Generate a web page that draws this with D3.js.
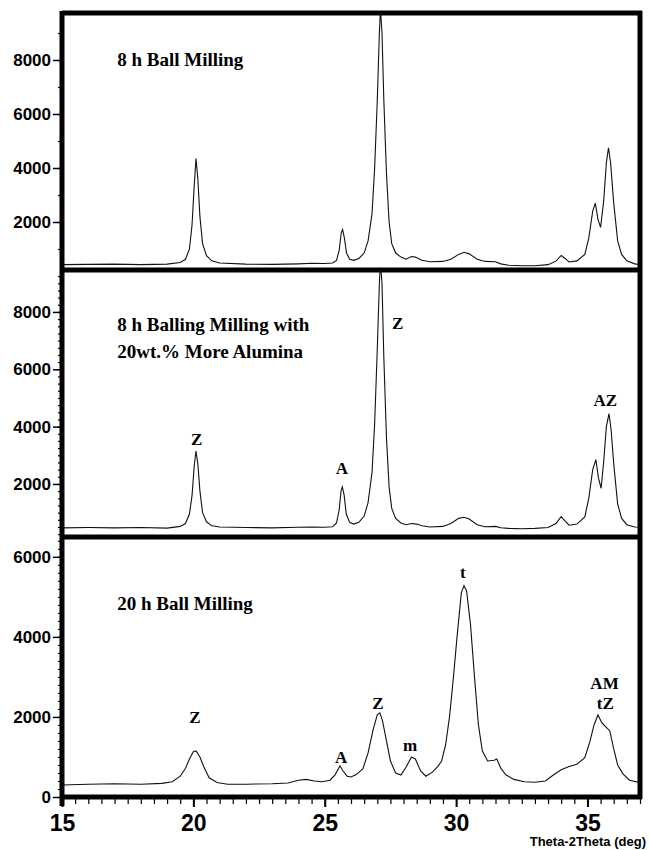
<!DOCTYPE html>
<html>
<head>
<meta charset="utf-8">
<script src="https://cdn.jsdelivr.net/npm/d3@7"></script>
<style>
  body { margin: 0; background: #fff; }
  .tick text { font-family: "Liberation Sans", Arial, sans-serif; font-weight: bold; }
</style>
</head>
<body>
<div id="xrd-graph"></div>
<script>
// ---- data ----
// panel 1: 8 h ball milling
var theta8h = [15.0,16.0,17.0,18.0,19.0,19.5,19.7,19.85,19.95,20.03,20.1,20.17,20.25,20.35,20.5,20.7,21.0,22.0,23.0,24.0,24.5,25.0,25.3,25.45,25.55,25.63,25.68,25.75,25.83,25.95,26.1,26.3,26.5,26.65,26.8,26.9,27.0,27.08,27.12,27.18,27.25,27.35,27.45,27.55,27.7,27.9,28.1,28.3,28.45,28.7,29.0,29.5,29.8,30.1,30.3,30.5,30.8,31.1,31.5,31.7,32.0,32.5,33.0,33.5,33.8,34.0,34.15,34.3,34.6,34.9,35.05,35.2,35.3,35.4,35.5,35.62,35.72,35.8,35.88,36.0,36.15,36.3,36.5,36.8,37.0];
var counts8h = [420,430,440,420,440,500,620,1000,1900,3300,4350,3600,2200,1200,750,560,480,440,430,450,470,460,480,580,950,1600,1720,1400,850,620,580,650,850,1300,2300,4000,6500,9000,9900,9000,6500,3800,2000,1200,850,700,620,720,700,580,530,540,620,800,880,820,620,540,530,450,400,380,380,420,550,760,650,520,560,800,1400,2400,2700,2100,1800,2800,4200,4750,4200,2700,1300,800,560,450,420];

// panel 2: 8 h milling with 20 wt.% more alumina
var thetaAlumina = [15.0,16.0,17.0,18.0,19.0,19.5,19.7,19.85,19.95,20.03,20.1,20.17,20.25,20.35,20.5,20.7,21.0,22.0,23.0,24.0,24.5,25.0,25.3,25.45,25.55,25.62,25.67,25.74,25.82,25.95,26.1,26.3,26.5,26.65,26.8,26.9,27.0,27.08,27.12,27.18,27.25,27.35,27.45,27.55,27.7,27.9,28.1,28.3,28.5,28.7,29.0,29.5,29.8,30.1,30.3,30.5,30.8,31.1,31.5,31.7,32.0,32.5,33.0,33.5,33.8,34.0,34.15,34.3,34.6,34.9,35.05,35.2,35.32,35.42,35.52,35.62,35.72,35.82,35.9,36.0,36.15,36.3,36.5,36.8,37.0];
var countsAlumina = [470,480,470,480,460,520,620,950,1600,2600,3150,2700,1750,1000,680,540,500,480,470,490,500,490,510,640,1100,1750,1900,1600,950,660,600,660,880,1350,2400,4100,6700,9000,9700,9000,6400,3600,1900,1150,800,640,580,620,600,540,500,520,620,800,840,780,580,510,520,470,450,440,450,480,620,860,700,560,600,850,1500,2500,2850,2200,1850,2800,4000,4450,3900,2700,1300,800,580,500,490];

// panel 3: 20 h ball milling
var theta20h = [15.0,16.0,17.0,18.0,18.8,19.2,19.5,19.7,19.85,20.0,20.1,20.25,20.4,20.6,20.9,21.3,22.0,23.0,23.6,24.0,24.3,24.6,24.9,25.2,25.4,25.58,25.7,25.85,26.0,26.2,26.45,26.65,26.85,27.0,27.1,27.2,27.35,27.5,27.7,27.9,28.1,28.3,28.45,28.65,28.85,29.1,29.3,29.45,29.6,29.75,29.9,30.05,30.2,30.3,30.4,30.55,30.7,30.85,31.0,31.2,31.45,31.55,31.7,31.9,32.2,32.6,33.0,33.4,33.7,34.0,34.3,34.6,34.9,35.1,35.25,35.4,35.55,35.7,35.85,36.0,36.15,36.35,36.6,37.0];
var counts20h = [300,320,330,320,340,380,520,720,950,1130,1150,1000,750,480,360,320,320,330,350,420,440,400,380,420,560,780,650,520,500,560,700,1100,1700,2050,2100,1900,1400,900,600,550,750,1000,950,650,520,620,760,900,1300,2000,3000,4100,5100,5280,5150,4300,3000,1800,1150,900,920,950,720,550,440,380,370,400,550,680,760,820,980,1400,1800,2050,1850,1750,1650,1200,800,580,420,360];

// axis ticks
var xMajorTicks = [15, 20, 25, 30, 35];
var yTicks8h = [2000, 4000, 6000, 8000];
var yTicksAlumina = [2000, 4000, 6000, 8000];
var yTicks20h = [0, 2000, 4000, 6000];

// panel titles and peak labels (theta, counts)
var titles8h = ["8 h Ball Milling"];
var titlesAlumina = ["8 h Balling Milling with", "20wt.% More Alumina"];
var titles20h = ["20 h Ball Milling"];
var peaksAlumina = [["Z", 20.13, 3360], ["A", 25.65, 2350], ["Z", 27.78, 7400], ["AZ", 35.68, 4720]];
var peaks20h = [["Z", 20.06, 1850], ["A", 25.62, 850], ["Z", 27.02, 2200], ["m", 28.25, 1150],
                ["t", 30.26, 5470], ["AM", 35.65, 2700], ["tZ", 35.68, 2200]];

// set the dimensions of the graph
var width = 650, height = 850;
var left = 62, right = 640;

var svg = d3.select("#xrd-graph")
  .append("svg")
    .attr("width", width)
    .attr("height", height);

var x = d3.scaleLinear().domain([15, 37]).range([left, right]);

// each panel has its own y scale (stacked plots)
var panels = [
  {id: "p1", theta: theta8h, counts: counts8h, dom: [222, 9741], rng: [270, 13],
   ticks: yTicks8h, minorStep: 1000, titles: titles8h, titleY: [7780], peaks: []},
  {id: "p2", theta: thetaAlumina, counts: countsAlumina, dom: [150, 9463], rng: [537, 270],
   ticks: yTicksAlumina, minorStep: 250, titles: titlesAlumina, titleY: [7335, 6393], peaks: peaksAlumina},
  {id: "p3", theta: theta20h, counts: counts20h, dom: [0, 6470], rng: [797, 538],
   ticks: yTicks20h, minorStep: 200, titles: titles20h, titleY: [4670], peaks: peaks20h}
];

panels.forEach(function(p) {
  var y = d3.scaleLinear().domain(p.dom).range(p.rng);

  svg.append("clipPath").attr("id", "clip-" + p.id)
    .append("rect")
      .attr("x", left).attr("y", p.rng[1])
      .attr("width", right - left).attr("height", p.rng[0] - p.rng[1]);

  // minor ticks
  var minor = d3.range(0, p.dom[1], p.minorStep).filter(function(v) { return v >= p.dom[0]; });
  svg.append("g")
    .attr("transform", "translate(" + left + ",0)")
    .call(d3.axisLeft(y).tickValues(minor).tickSize(4).tickFormat(""))
    .call(function(g) { g.select(".domain").remove(); })
    .selectAll("line").attr("stroke-width", 1.2);

  // major ticks + labels
  svg.append("g")
    .attr("transform", "translate(" + left + ",0)")
    .call(d3.axisLeft(y).tickValues(p.ticks).tickSize(9).tickPadding(2).tickFormat(d3.format("d")))
    .call(function(g) { g.select(".domain").remove(); })
    .call(function(g) {
      g.selectAll("line").attr("stroke-width", 1.5);
      g.selectAll("text").style("font-size", "17px");
    });

  // the pattern
  var line = d3.line()
    .x(function(d) { return x(d[0]); })
    .y(function(d) { return y(d[1]); });

  svg.append("path")
    .datum(d3.zip(p.theta, p.counts))
    .attr("clip-path", "url(#clip-" + p.id + ")")
    .attr("fill", "none")
    .attr("stroke", "#111")
    .attr("stroke-width", 1.1)
    .attr("d", line);

  // panel title
  p.titles.forEach(function(t, i) {
    svg.append("text")
      .attr("x", x(17.1))
      .attr("y", y(p.titleY[i]))
      .style("font-family", "'Liberation Serif', 'Times New Roman', serif")
      .style("font-weight", "bold")
      .style("font-size", "19px")
      .text(t);
  });

  // peak labels
  svg.selectAll(null)
    .data(p.peaks)
    .enter()
    .append("text")
      .attr("x", function(d) { return x(d[1]); })
      .attr("y", function(d) { return y(d[2]); })
      .attr("text-anchor", "middle")
      .style("font-family", "'Liberation Serif', 'Times New Roman', serif")
      .style("font-weight", "bold")
      .style("font-size", "17px")
      .text(function(d) { return d[0]; });

  // divider / frame line at the bottom of each panel
  svg.append("line")
    .attr("x1", left).attr("x2", right + 2)
    .attr("y1", p.rng[0]).attr("y2", p.rng[0])
    .attr("stroke", "#000").attr("stroke-width", 5);
});

// outer frame
svg.append("line").attr("x1", left).attr("x2", right + 2).attr("y1", 13).attr("y2", 13)
  .attr("stroke", "#000").attr("stroke-width", 5);
svg.append("line").attr("x1", left).attr("x2", left).attr("y1", 11).attr("y2", 806)
  .attr("stroke", "#000").attr("stroke-width", 5);
svg.append("line").attr("x1", right).attr("x2", right).attr("y1", 11).attr("y2", 799)
  .attr("stroke", "#000").attr("stroke-width", 5);

// X axis
svg.append("g")
  .attr("transform", "translate(0,799)")
  .call(d3.axisBottom(x).tickValues(d3.range(15, 37.01, 0.5)).tickSize(5).tickFormat(""))
  .call(function(g) { g.select(".domain").remove(); })
  .selectAll("line").attr("stroke-width", 1.2);

svg.append("g")
  .attr("transform", "translate(0,799)")
  .call(d3.axisBottom(x).tickValues(xMajorTicks).tickSize(8).tickPadding(8).tickFormat(d3.format("d")))
  .call(function(g) {
    g.select(".domain").remove();
    g.selectAll("line").attr("stroke-width", 2);
    g.selectAll("text").style("font-size", "23px");
  });

svg.append("text")
  .attr("x", 646)
  .attr("y", 846)
  .attr("text-anchor", "end")
  .style("font-family", "'Liberation Sans', Arial, sans-serif")
  .style("font-weight", "bold")
  .style("font-size", "13px")
  .text("Theta-2Theta (deg)");
</script>
</body>
</html>
